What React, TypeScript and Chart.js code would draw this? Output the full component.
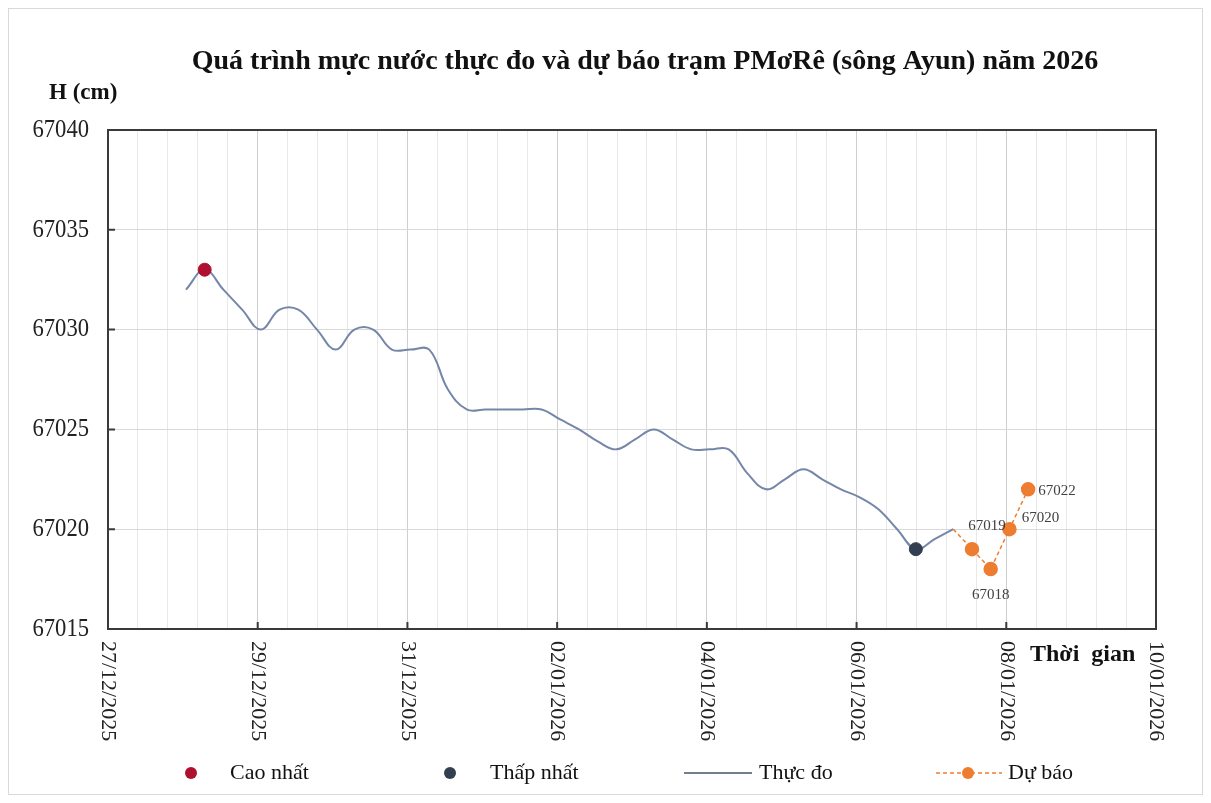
import React, { useEffect, useRef } from "react";
import { Chart, registerables } from "chart.js";

Chart.register(...registerables);

// ---------- DATA ----------
const observedTimes = [
  "28/12/2025 01:00", "28/12/2025 07:00", "28/12/2025 13:00", "28/12/2025 19:00",
  "29/12/2025 01:00", "29/12/2025 07:00", "29/12/2025 13:00", "29/12/2025 19:00",
  "30/12/2025 01:00", "30/12/2025 07:00", "30/12/2025 13:00", "30/12/2025 19:00",
  "31/12/2025 01:00", "31/12/2025 07:00", "31/12/2025 13:00", "31/12/2025 19:00",
  "01/01/2026 01:00", "01/01/2026 07:00", "01/01/2026 13:00", "01/01/2026 19:00",
  "02/01/2026 01:00", "02/01/2026 07:00", "02/01/2026 13:00", "02/01/2026 19:00",
  "03/01/2026 01:00", "03/01/2026 07:00", "03/01/2026 13:00", "03/01/2026 19:00",
  "04/01/2026 01:00", "04/01/2026 07:00", "04/01/2026 13:00", "04/01/2026 19:00",
  "05/01/2026 01:00", "05/01/2026 07:00", "05/01/2026 13:00", "05/01/2026 19:00",
  "06/01/2026 01:00", "06/01/2026 07:00", "06/01/2026 13:00", "06/01/2026 19:00",
  "07/01/2026 01:00", "07/01/2026 07:00",
];
const observedValues = [
  67032, 67033, 67032, 67031,
  67030, 67031, 67031, 67030,
  67029, 67030, 67030, 67029,
  67029, 67029, 67027, 67026,
  67026, 67026, 67026, 67026,
  67025.5, 67025, 67024.4, 67024,
  67024.5, 67025, 67024.5, 67024,
  67024, 67024, 67022.8, 67022,
  67022.5, 67023, 67022.5, 67022,
  67021.6, 67021, 67020, 67019,
  67019.5, 67020,
];
const forecastTimes = [
  "07/01/2026 07:00", "07/01/2026 13:00", "07/01/2026 19:00", "08/01/2026 01:00", "08/01/2026 07:00",
];
const forecastValues = [67020, 67019, 67018, 67020, 67022];
const highestTime = "28/12/2025 07:00";
const highestValue = 67033;
const lowestTime = "06/01/2026 19:00";
const lowestValue = 67019;

const axisStartDate = "27/12/2025 00:00";
const axisEndDate = "10/01/2026 00:00";
const xTickDates = [
  "27/12/2025", "29/12/2025", "31/12/2025", "02/01/2026",
  "04/01/2026", "06/01/2026", "08/01/2026", "10/01/2026",
];
const yTickValues = [67015, 67020, 67025, 67030, 67035, 67040];

const TITLE = "Quá trình mực nước thực đo và dự báo trạm PMơRê (sông Ayun) năm 2026";
const Y_TITLE = "H (cm)";
const X_TITLE = "Thời  gian";
const SERIES_NAMES = ["Cao nhất", "Thấp nhất", "Thực đo", "Dự báo"];

// ---------- STYLE ----------
const SERIF = "'Liberation Serif', 'Times New Roman', serif";
const COLOR_LINE = "#7587A8";
const COLOR_HIGH = "#B01030";
const COLOR_LOW = "#333F50";
const COLOR_FC = "#ED7D31";
const labelOffsets = [null, { dx: 15, dy: -23 }, { dx: 0, dy: 26 }, { dx: 31, dy: -11 }, { dx: 29, dy: 2 }];

function parseStamp(s: string): number {
  const [d, t] = s.split(" ");
  const [dd, mm, yy] = d.split("/").map(Number);
  const [hh, mi] = (t || "00:00").split(":").map(Number);
  return Date.UTC(yy, mm - 1, dd, hh, mi);
}
const T0 = parseStamp(axisStartDate);
const toDay = (s: string) => (parseStamp(s) - T0) / 86400000;
const fmtDay = (d: number) => {
  const dt = new Date(T0 + d * 86400000);
  const p = (n: number) => String(n).padStart(2, "0");
  return `${p(dt.getUTCDate())}/${p(dt.getUTCMonth() + 1)}/${dt.getUTCFullYear()}`;
};

const isMajor = (v: number) => Math.abs(v / 2 - Math.round(v / 2)) < 1e-6;

// draw text horizontally condensed (reference font is narrow)
function condensedText(ctx: CanvasRenderingContext2D, text: string, x: number, y: number, sx: number) {
  ctx.save();
  ctx.translate(x, y);
  ctx.scale(sx, 1);
  ctx.fillText(text, 0, 0);
  ctx.restore();
}

const drawPlugin = {
  id: "customDraw",
  afterDraw(chart: any) {
    const { ctx, chartArea: a, scales } = chart;
    const x = scales.x, y = scales.y;
    ctx.save();
    // plot border
    ctx.strokeStyle = "#3a3a3a";
    ctx.lineWidth = 2;
    ctx.strokeRect(a.left, a.top, a.right - a.left, a.bottom - a.top);
    // inside ticks
    ctx.beginPath();
    yTickValues.forEach((v) => {
      const py = y.getPixelForValue(v);
      ctx.moveTo(a.left, py);
      ctx.lineTo(a.left + 7, py);
    });
    xTickDates.forEach((s) => {
      const px = x.getPixelForValue(toDay(s));
      ctx.moveTo(px, a.bottom);
      ctx.lineTo(px, a.bottom - 7);
    });
    ctx.stroke();

    ctx.fillStyle = "#111";
    // title
    ctx.font = `bold 28px ${SERIF}`;
    ctx.textAlign = "center";
    ctx.textBaseline = "middle";
    ctx.fillText(TITLE, 636, 53);
    // y title
    ctx.font = `bold 23px ${SERIF}`;
    ctx.textAlign = "left";
    ctx.fillText(Y_TITLE, 40, 84);
    // x title
    ctx.font = `bold 24px ${SERIF}`;
    ctx.fillText(X_TITLE, 1021, 646);
    // y tick labels
    ctx.fillStyle = "#222";
    ctx.font = `26px ${SERIF}`;
    ctx.textAlign = "right";
    yTickValues.forEach((v) => {
      condensedText(ctx, String(v), a.left - 19, y.getPixelForValue(v), 0.87);
    });
    // x tick labels (rotated clockwise)
    ctx.font = `22px ${SERIF}`;
    xTickDates.forEach((s) => {
      const d = toDay(s);
      const px = x.getPixelForValue(d);
      ctx.save();
      ctx.translate(px, a.bottom + 12);
      ctx.rotate(Math.PI / 2);
      ctx.textAlign = "left";
      ctx.textBaseline = "middle";
      ctx.fillText(fmtDay(d), 0, 0);
      ctx.restore();
    });
    // data labels for forecast
    const meta = chart.getDatasetMeta(1);
    ctx.font = `15px ${SERIF}`;
    ctx.fillStyle = "#404040";
    ctx.textAlign = "center";
    ctx.textBaseline = "middle";
    meta.data.forEach((pt: any, i: number) => {
      const o = labelOffsets[i];
      if (!o) return;
      ctx.fillText(String(forecastValues[i]), pt.x + o.dx, pt.y + o.dy);
    });
    // legend
    const ly = 764;
    ctx.font = `22px ${SERIF}`;
    ctx.textAlign = "left";
    const names = chart.data.datasets.map((d: any) => d.label);
    // Cao nhat
    ctx.fillStyle = COLOR_HIGH;
    ctx.beginPath(); ctx.arc(182, ly, 6, 0, Math.PI * 2); ctx.fill();
    ctx.fillStyle = "#111";
    ctx.fillText(names[2], 221, ly);
    // Thap nhat
    ctx.fillStyle = COLOR_LOW;
    ctx.beginPath(); ctx.arc(441, ly, 6, 0, Math.PI * 2); ctx.fill();
    ctx.fillStyle = "#111";
    ctx.fillText(names[3], 481, ly);
    // Thuc do
    ctx.strokeStyle = "#44546A";
    ctx.lineWidth = 1.5;
    ctx.beginPath(); ctx.moveTo(675, ly); ctx.lineTo(743, ly); ctx.stroke();
    ctx.fillText(names[0], 750, ly);
    // Du bao
    ctx.strokeStyle = COLOR_FC;
    ctx.setLineDash([4, 3]);
    ctx.beginPath(); ctx.moveTo(927, ly); ctx.lineTo(993, ly); ctx.stroke();
    ctx.setLineDash([]);
    ctx.fillStyle = COLOR_FC;
    ctx.beginPath(); ctx.arc(959, ly, 6, 0, Math.PI * 2); ctx.fill();
    ctx.fillStyle = "#111";
    ctx.fillText(names[1], 999, ly);
    ctx.restore();
  },
};

export default function App() {
  const ref = useRef<HTMLCanvasElement | null>(null);
  useEffect(() => {
    if (!ref.current) return;
    const chart = new Chart(ref.current, {
      type: "line",
      data: {
        datasets: [
          {
            label: SERIES_NAMES[2],
            data: observedTimes.map((t, i) => ({ x: toDay(t), y: observedValues[i] })),
            borderColor: COLOR_LINE,
            borderWidth: 2,
            tension: 0.4,
            pointRadius: 0,
            order: 3,
          },
          {
            label: SERIES_NAMES[3],
            data: forecastTimes.map((t, i) => ({ x: toDay(t), y: forecastValues[i] })),
            borderColor: COLOR_FC,
            borderWidth: 1.5,
            borderDash: [4, 3],
            tension: 0,
            pointRadius: forecastValues.map((_, i) => (i === 0 ? 0 : 6.5)),
            pointBackgroundColor: COLOR_FC,
            pointBorderColor: COLOR_FC,
            order: 2,
          },
          {
            label: SERIES_NAMES[0],
            data: [{ x: toDay(highestTime), y: highestValue }],
            showLine: false,
            pointRadius: 6.5,
            pointBackgroundColor: COLOR_HIGH,
            pointBorderColor: COLOR_HIGH,
            order: 1,
          },
          {
            label: SERIES_NAMES[1],
            data: [{ x: toDay(lowestTime), y: lowestValue }],
            showLine: false,
            pointRadius: 6.5,
            pointBackgroundColor: COLOR_LOW,
            pointBorderColor: COLOR_LOW,
            order: 1,
          },
        ],
      },
      options: {
        animation: false,
        responsive: true,
        maintainAspectRatio: false,
        layout: { padding: { left: 99, right: 46, top: 121, bottom: 165 } },
        plugins: { legend: { display: false }, title: { display: false }, tooltip: { enabled: false } },
        scales: {
          x: {
            type: "linear",
            min: toDay(axisStartDate),
            max: toDay(axisEndDate),
            ticks: { display: false, stepSize: 0.4, autoSkip: false },
            grid: {
              drawTicks: false,
              color: (c: any) => (c.tick && isMajor(c.tick.value) ? "#CFCFCF" : "#E8E8E8"),
              lineWidth: 1,
            },
            border: { display: false },
          },
          y: {
            min: yTickValues[0],
            max: yTickValues[yTickValues.length - 1],
            ticks: { display: false, stepSize: 5 },
            grid: { drawTicks: false, color: "#D9D9D9", lineWidth: 1 },
            border: { display: false },
          },
        },
      },
      plugins: [drawPlugin],
    });
    return () => chart.destroy();
  }, []);
  return (
    <div style={{ width: 1193, height: 785, border: "1px solid #D9D9D9", background: "#fff", position: "relative" }}>
      <canvas ref={ref} />
    </div>
  );
}
